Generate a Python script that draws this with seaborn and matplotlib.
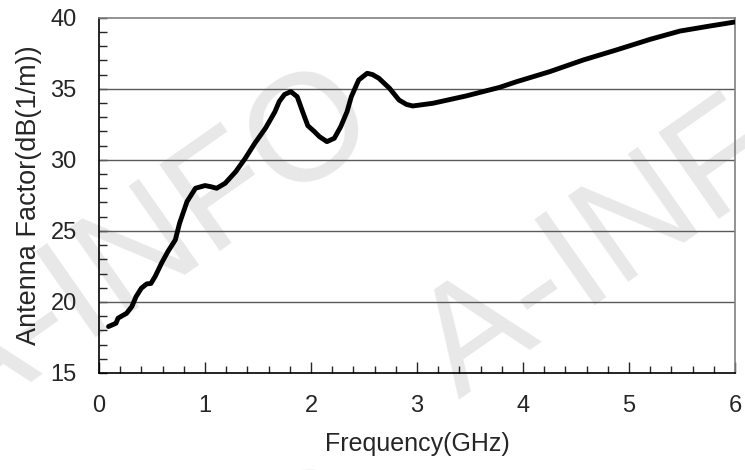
import numpy as np
import pandas as pd
import seaborn as sns
import matplotlib.pyplot as plt
from matplotlib.ticker import MultipleLocator

# --- Data ---

freq_ghz = [0.09, 0.16, 0.18, 0.26, 0.31, 0.35, 0.40, 0.45, 0.49, 0.53,
            0.59, 0.65, 0.72, 0.76, 0.83, 0.91, 1.00, 1.06, 1.11, 1.19,
            1.29, 1.38, 1.47, 1.57, 1.66, 1.70, 1.75, 1.81, 1.87, 1.92,
            1.97, 2.03, 2.08, 2.15, 2.22, 2.28, 2.34, 2.38, 2.45, 2.53,
            2.58, 2.64, 2.74, 2.83, 2.90, 2.96, 3.15, 3.46, 3.78, 3.94,
            4.25, 4.57, 4.88, 5.20, 5.48, 5.75, 6.00]
antenna_factor = [18.27, 18.50, 18.86, 19.20, 19.68, 20.38, 20.97, 21.27, 21.30, 21.80,
                  22.73, 23.55, 24.37, 25.54, 27.06, 28.00, 28.19, 28.10, 28.00, 28.35,
                  29.17, 30.11, 31.17, 32.22, 33.39, 34.10, 34.60, 34.80, 34.44, 33.40,
                  32.40, 32.00, 31.63, 31.28, 31.52, 32.33, 33.39, 34.44, 35.62, 36.09,
                  36.00, 35.74, 35.04, 34.21, 33.90, 33.79, 33.98, 34.49, 35.10, 35.50,
                  36.20, 37.03, 37.73, 38.48, 39.06, 39.40, 39.70]

x_ticks = [0, 1, 2, 3, 4, 5, 6]
y_ticks = [15, 20, 25, 30, 35, 40]

df = pd.DataFrame({'freq': freq_ghz, 'af': antenna_factor})

# --- Style ---

sns.set_style('ticks')
plt.rcParams['font.family'] = ['Liberation Sans', 'DejaVu Sans']

fig = plt.figure(figsize=(7.45, 4.70), dpi=100)
ax = fig.add_axes([0.1329, 0.2064, 0.8537, 0.7559])
ax.set_facecolor('none')

# watermark, behind the axes (positions in pixels from top-left)
for x0, y0 in [(-40, 432), (459, 400), (-35, 830)]:
  fig.text(x0 / 745, 1 - y0 / 470, 'A-INFO', fontsize=110, color='#e8e8e8',
           rotation=35, rotation_mode='anchor', ha='left', va='baseline',
           zorder=-5)

for y in y_ticks[1:-1]:
  ax.axhline(y, color='#5a5a5a', lw=1.0, zorder=1)

sns.lineplot(data=df, x='freq', y='af', sort=False, color='black',
             lw=3.5, ax=ax, zorder=3)

ax.set_xlim(0, 6)
ax.set_ylim(15, 40)
ax.set_xticks(x_ticks)
ax.set_yticks(y_ticks)
ax.xaxis.set_minor_locator(MultipleLocator(0.2))
ax.yaxis.set_minor_locator(MultipleLocator(1))
ax.tick_params(axis='x', which='major', direction='in', length=8, width=1,
               labelsize=17, pad=16)
ax.tick_params(axis='x', which='minor', direction='in', length=5, width=1)
ax.tick_params(axis='y', which='major', direction='in', length=6, width=1,
               labelsize=17, pad=16)
ax.tick_params(axis='y', which='minor', direction='in', length=6, width=1)

for side in ['top', 'right']:
  ax.spines[side].set_color('#808080')
  ax.spines[side].set_linewidth(1.2)
for side in ['left', 'bottom']:
  ax.spines[side].set_color('black')
  ax.spines[side].set_linewidth(1.2)

ax.set_xlabel('Frequency(GHz)', fontsize=18, labelpad=11)
ax.set_ylabel('Antenna Factor(dB(1/m))', fontsize=19.5, labelpad=6)

fig.savefig('out.png', dpi=100)
